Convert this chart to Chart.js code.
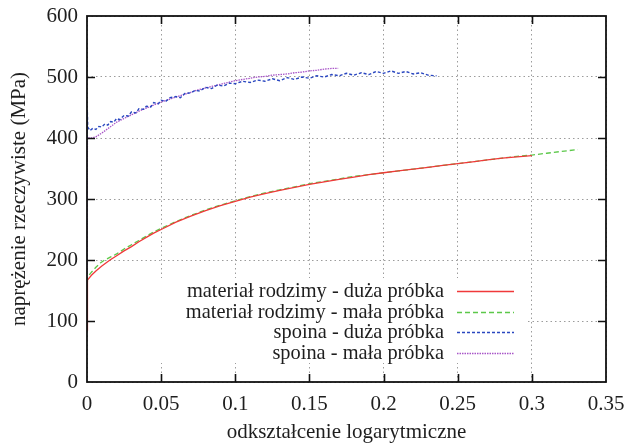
<!DOCTYPE html>
<html>
<head>
<meta charset="utf-8">
<script src="https://cdn.jsdelivr.net/npm/chart.js@4/dist/chart.umd.min.js"></script>
<style>
  html, body { margin: 0; padding: 0; background: #fff; }
  #wrap { width: 624px; height: 444px; }
</style>
</head>
<body>
<div id="wrap"><canvas id="c" width="624" height="444"></canvas></div>
<script>
// True stress vs. logarithmic strain: base material and weld, large and small specimens
const xTickLabels = ['0', '0.05', '0.1', '0.15', '0.2', '0.25', '0.3', '0.35'];
const yTickLabels = ['0', '100', '200', '300', '400', '500', '600'];

const seriesNames = [
  'materiał rodzimy - duża próbka',
  'materiał rodzimy - mała próbka',
  'spoina - duża próbka',
  'spoina - mała próbka'
];

// materiał rodzimy - duża próbka
const baseLargeStrain = [0, 0.0003, 0.003, 0.006, 0.01, 0.0155, 0.02, 0.025, 0.03, 0.035, 0.04, 0.045, 0.05,
  0.06, 0.07, 0.08, 0.09, 0.1, 0.11, 0.12, 0.13, 0.14, 0.15, 0.16, 0.17, 0.18, 0.19, 0.2,
  0.21, 0.22, 0.23, 0.24, 0.25, 0.26, 0.27, 0.28, 0.29, 0.3];
const baseLargeStress = [85, 167, 175, 182, 190, 200, 207, 215, 222, 230, 237, 244, 250,
  262, 272, 281, 289, 296, 303, 309, 314, 319, 324, 328, 332, 336, 340, 343,
  346, 349, 352, 355, 358, 361, 364, 367, 369, 371];

// materiał rodzimy - mała próbka
const baseSmallStrain = [0, 0.0003, 0.003, 0.006, 0.009, 0.012, 0.016, 0.02, 0.025, 0.03, 0.035, 0.04, 0.045, 0.05,
  0.06, 0.07, 0.08, 0.09, 0.1, 0.11, 0.12, 0.13, 0.14, 0.15, 0.16, 0.17, 0.18, 0.19, 0.2,
  0.21, 0.22, 0.23, 0.24, 0.25, 0.26, 0.27, 0.28, 0.29, 0.3, 0.31, 0.32, 0.331];
const baseSmallStress = [85, 172, 180, 188, 195, 200, 205, 210, 218, 225, 232, 239, 246, 252,
  263, 273, 282, 290, 297, 304, 310, 315, 320, 325, 329, 333, 337, 340, 343,
  346, 349, 352, 355, 358, 361, 364, 367, 370, 372, 375, 378, 381];

// spoina - duża próbka
const weldLargeStrain = [0, 0.0002, 0.0005, 0.002, 0.004, 0.006, 0.008, 0.010, 0.012, 0.014, 0.016, 0.018,
  0.020, 0.022, 0.025, 0.028, 0.030, 0.033, 0.035, 0.038, 0.040, 0.043, 0.045, 0.048,
  0.050, 0.053, 0.056, 0.060, 0.063, 0.066, 0.070, 0.073, 0.076, 0.080, 0.084, 0.088,
  0.092, 0.096, 0.100, 0.105, 0.110, 0.115, 0.120, 0.125, 0.130, 0.135, 0.140, 0.145,
  0.150, 0.155, 0.160, 0.165, 0.170, 0.175, 0.180, 0.185, 0.190, 0.195, 0.200, 0.205,
  0.210, 0.215, 0.220, 0.225, 0.230, 0.2357];
const weldLargeStress = [400, 446, 418, 412, 416, 414, 419, 418, 423, 421, 427, 426,
  432, 430, 437, 436, 443, 441, 448, 447, 452, 451, 458, 456,
  462, 460, 466, 468, 466, 473, 474, 478, 477, 483, 481, 487,
  485, 490, 489, 493, 491, 495, 493, 497, 494, 499, 496, 500,
  498, 502, 500, 504, 502, 506, 503, 507, 504, 509, 506, 510,
  506, 509, 505, 507, 503, 502];

// spoina - mała próbka
const weldSmallStrain = [0, 0.0003, 0.003, 0.006, 0.010, 0.015, 0.020, 0.025, 0.030, 0.035, 0.040, 0.045,
  0.050, 0.055, 0.060, 0.065, 0.070, 0.075, 0.080, 0.085, 0.090, 0.095, 0.100, 0.105,
  0.110, 0.115, 0.120, 0.125, 0.130, 0.135, 0.140, 0.145, 0.150, 0.155, 0.160, 0.165, 0.1694];
const weldSmallStress = [180, 400, 400, 402, 408, 417, 426, 432, 438, 444, 449, 454,
  459, 463, 467, 471, 475, 479, 482, 485, 488, 491, 494, 496,
  498, 500, 501, 503, 504, 505, 507, 508, 510, 511, 513, 514, 514];

const toPoints = (xs, ys) => xs.map((x, i) => ({ x: x, y: ys[i] }));

const SERIF = "'Liberation Serif', 'Times New Roman', serif";
const TEXT = '#1e1e1e';
const FONT_SIZE = 21;

const datasets = [
  { label: seriesNames[0], data: toPoints(baseLargeStrain, baseLargeStress),
    borderColor: '#f0393a', borderWidth: 1.3, borderDash: [] },
  { label: seriesNames[1], data: toPoints(baseSmallStrain, baseSmallStress),
    borderColor: '#5cc84a', borderWidth: 1.3, borderDash: [5, 3] },
  { label: seriesNames[2], data: toPoints(weldLargeStrain, weldLargeStress),
    borderColor: '#2a47c0', borderWidth: 1.4, borderDash: [3, 2] },
  { label: seriesNames[3], data: toPoints(weldSmallStrain, weldSmallStress),
    borderColor: '#a855c8', borderWidth: 1.3, borderDash: [1.5, 1] }
].map(d => Object.assign(d, { showLine: true, pointRadius: 0, tension: 0, fill: false }));

// Frame, inward ticks on all four sides, and the key in the lower right
const framePlugin = {
  id: 'frame',
  beforeDatasetsDraw(chart) {
    const { ctx, chartArea: a } = chart;
    // opaque key background hides the grid behind the key
    ctx.save();
    ctx.fillStyle = '#ffffff';
    ctx.fillRect(a.left + 1, a.bottom - 104, a.right - a.left - 80, 85);
    ctx.restore();
  },
  afterDraw(chart) {
    const { ctx, chartArea: a, scales } = chart;
    const len = 8;
    ctx.save();
    ctx.strokeStyle = '#111';
    ctx.lineWidth = 1.6;
    ctx.setLineDash([]);
    ctx.beginPath();
    scales.x.ticks.forEach(t => {
      const px = Math.round(scales.x.getPixelForValue(t.value)) + 0.5;
      if (px <= a.left + 1 || px >= a.right - 1) return;
      ctx.moveTo(px, a.bottom); ctx.lineTo(px, a.bottom - len);
      ctx.moveTo(px, a.top); ctx.lineTo(px, a.top + len);
    });
    scales.y.ticks.forEach(t => {
      const py = Math.round(scales.y.getPixelForValue(t.value)) + 0.5;
      if (py <= a.top + 1 || py >= a.bottom - 1) return;
      ctx.moveTo(a.left, py); ctx.lineTo(a.left + len, py);
      ctx.moveTo(a.right, py); ctx.lineTo(a.right - len, py);
    });
    ctx.stroke();
    ctx.lineWidth = 1.8;
    ctx.strokeRect(a.left, a.top, a.right - a.left, a.bottom - a.top);

    // key: right-aligned labels with a line sample to the right
    const textRight = a.right - 162;
    const sx0 = a.right - 149, sx1 = a.right - 92;
    const rowY0 = a.bottom - 91, rowStep = 20.5;
    ctx.font = '20.4px ' + SERIF;
    ctx.textAlign = 'right';
    ctx.textBaseline = 'middle';
    ctx.fillStyle = TEXT;
    chart.data.datasets.forEach((d, i) => {
      const y = rowY0 + i * rowStep;
      ctx.fillText(d.label, textRight, y + 1);
      ctx.strokeStyle = d.borderColor;
      ctx.lineWidth = d.borderWidth;
      ctx.setLineDash(d.borderDash);
      ctx.beginPath();
      ctx.moveTo(sx0, Math.round(y) + 0.5);
      ctx.lineTo(sx1, Math.round(y) + 0.5);
      ctx.stroke();
    });
    ctx.restore();
  }
};

new Chart(document.getElementById('c'), {
  type: 'scatter',
  data: { datasets: datasets },
  options: {
    responsive: false,
    animation: false,
    devicePixelRatio: 1,
    layout: { padding: { top: 16, right: 18, left: 0, bottom: 0 } },
    plugins: { legend: { display: false }, tooltip: { enabled: false } },
    scales: {
      x: {
        type: 'linear', min: 0, max: 0.35,
        afterFit: s => { s.height = 62; s.paddingLeft = 0; s.paddingRight = 0; },
        ticks: {
          stepSize: 0.05, padding: 10, color: TEXT, maxRotation: 0,
          font: { family: SERIF, size: FONT_SIZE },
          callback: (v, i) => xTickLabels[i]
        },
        grid: { color: '#9c9c9c', lineWidth: 1, drawTicks: false, tickLength: 0 },
        border: { display: false, dash: [1.5, 3] },
        title: {
          display: true, text: 'odkształcenie logarytmiczne', color: TEXT,
          font: { family: SERIF, size: FONT_SIZE }, padding: { top: 0, bottom: -1 }
        }
      },
      y: {
        type: 'linear', min: 0, max: 600,
        afterFit: s => { s.width = 87; s.paddingTop = 0; s.paddingBottom = 0; },
        ticks: {
          stepSize: 100, padding: 9, color: TEXT,
          font: { family: SERIF, size: FONT_SIZE },
          callback: (v, i) => yTickLabels[i]
        },
        grid: { color: '#9c9c9c', lineWidth: 1, drawTicks: false, tickLength: 0 },
        border: { display: false, dash: [1.5, 3] },
        title: {
          display: true, text: 'naprężenie rzeczywiste (MPa)', color: TEXT,
          font: { family: SERIF, size: FONT_SIZE }, padding: { top: 7, bottom: 0 }
        }
      }
    }
  },
  plugins: [framePlugin]
});
</script>
</body>
</html>
